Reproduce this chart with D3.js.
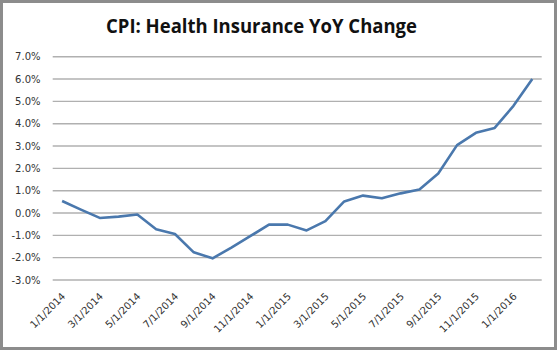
<!DOCTYPE html>
<html>
<head>
<meta charset="utf-8">
<script src="https://cdn.jsdelivr.net/npm/d3@7"></script>
<style>
  body { margin: 0; background: #fff; }
  svg { display: block; }
</style>
</head>
<body>
<div id="chart"></div>
<script>
// Monthly dates, 1/1/2014 .. 2/1/2016
const months = [
    "1/1/2014", "2/1/2014", "3/1/2014", "4/1/2014", "5/1/2014", "6/1/2014",
    "7/1/2014", "8/1/2014", "9/1/2014", "10/1/2014", "11/1/2014", "12/1/2014",
    "1/1/2015", "2/1/2015", "3/1/2015", "4/1/2015", "5/1/2015", "6/1/2015",
    "7/1/2015", "8/1/2015", "9/1/2015", "10/1/2015", "11/1/2015", "12/1/2015",
    "1/1/2016", "2/1/2016"
];

// YoY change, percent
const yoy = [
    0.54, 0.15, -0.22, -0.16, -0.07, -0.73,
    -0.94, -1.76, -2.03, -1.55, -1.04, -0.52,
    -0.52, -0.78, -0.36, 0.52, 0.78, 0.66,
    0.88, 1.05, 1.77, 3.04, 3.59, 3.81,
    4.80, 6.00
];

const yTicks = [-3, -2, -1, 0, 1, 2, 3, 4, 5, 6, 7];
const xLabels = months.filter((d, i) => i % 2 === 0);

const width = 558;
const height = 351;

const svg = d3.select("#chart").append("svg")
    .attr("width", width)
    .attr("height", height);

svg.append("rect")
    .attr("width", width)
    .attr("height", height)
    .attr("fill", "#fff");

// outer border
svg.append("rect")
    .attr("x", 1.5)
    .attr("y", 1.5)
    .attr("width", 554)
    .attr("height", 347)
    .attr("fill", "none")
    .attr("stroke", "#8c8c8c")
    .attr("stroke-width", 3);

// title
svg.append("text")
    .attr("x", 261.5)
    .attr("y", 33)
    .attr("text-anchor", "middle")
    .attr("textLength", 311)
    .attr("lengthAdjust", "spacingAndGlyphs")
    .style("font-family", "'Open Sans', sans-serif")
    .style("font-weight", 700)
    .style("font-size", "20px")
    .style("fill", "#111")
    .text("CPI: Health Insurance YoY Change");

const x = d3.scalePoint()
    .domain(months)
    .range([52.7, 541.7])
    .padding(0.5);

const y = d3.scaleLinear()
    .domain([-3, 7])
    .range([280, 56.7]);

// gridlines
svg.append("g")
    .selectAll("line")
    .data(yTicks)
    .enter().append("line")
    .attr("x1", 52.7)
    .attr("x2", 541.7)
    .attr("y1", d => y(d))
    .attr("y2", d => y(d))
    .attr("stroke", "#b0b0b0")
    .attr("stroke-width", 1.4);

// y labels
svg.append("g")
    .selectAll("text")
    .data(yTicks)
    .enter().append("text")
    .attr("x", 40.5)
    .attr("y", d => y(d))
    .attr("dy", "0.35em")
    .attr("text-anchor", "end")
    .style("font-family", "'DejaVu Sans', sans-serif")
    .style("font-size", "10px")
    .style("fill", "#333")
    .text(d => d.toFixed(1) + "%");

// x labels, rotated
svg.append("g")
    .selectAll("text")
    .data(xLabels)
    .enter().append("text")
    .attr("text-anchor", "end")
    .attr("transform", d => `translate(${x(d) + 4},297) rotate(-45)`)
    .style("font-family", "'DejaVu Sans', sans-serif")
    .style("font-size", "10px")
    .style("fill", "#333")
    .text(d => d);

// the line
const line = d3.line()
    .x((d, i) => x(months[i]))
    .y(d => y(d));

svg.append("path")
    .datum(yoy)
    .attr("d", line)
    .attr("fill", "none")
    .attr("stroke", "#4a78ad")
    .attr("stroke-width", 2.6)
    .attr("stroke-linejoin", "round");
</script>
</body>
</html>
